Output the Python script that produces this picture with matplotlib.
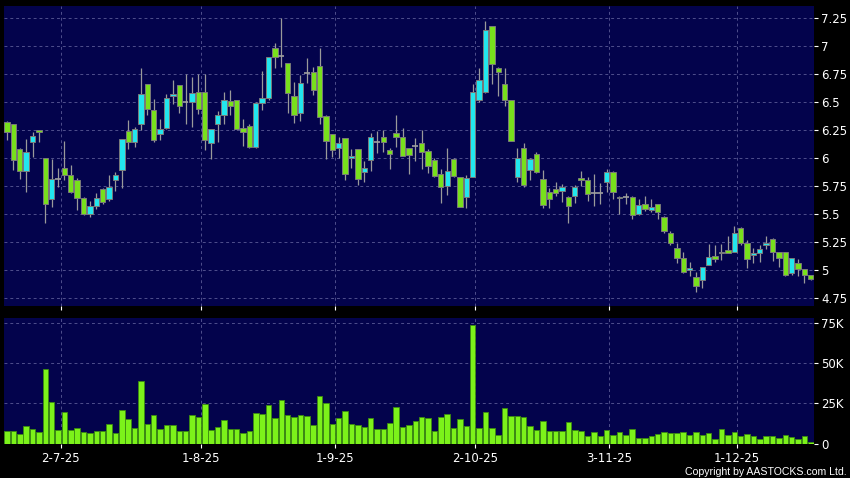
import numpy as np
import matplotlib.pyplot as plt

# daily candles (oldest first)
opens = [6.32, 6.30, 6.08, 5.88, 6.14, 6.25, 6.00, 5.63, 5.81, 5.91,
         5.85, 5.80, 5.64, 5.50, 5.57, 5.72, 5.63, 5.80, 5.89, 6.24,
         6.14, 6.30, 6.66, 6.43, 6.21, 6.27, 6.55, 6.65, 6.50, 6.50,
         6.59, 6.59, 6.13, 6.30, 6.38, 6.51, 6.515, 6.265, 6.29, 6.10,
         6.49, 6.54, 6.98, 6.91, 6.846, 6.556, 6.40, 6.76, 6.765, 6.82,
         6.378, 6.21, 6.087, 6.176, 6.00, 6.077, 5.878, 5.98, 6.145, 6.185,
         6.07, 6.22, 6.19, 6.087, 6.11, 6.13, 6.063, 5.982, 5.855, 5.753,
         5.99, 5.83, 5.65, 5.827, 6.518, 6.592, 7.18, 6.806, 6.66, 6.518,
         5.827, 6.092, 5.893, 6.04, 5.81, 5.694, 5.72, 5.71, 5.655, 5.66,
         5.82, 5.80, 5.685, 5.685, 5.79, 5.873, 5.64, 5.65, 5.655, 5.497,
         5.587, 5.54, 5.587, 5.476, 5.328, 5.20, 5.105, 5.00, 4.935, 4.91,
         5.045, 5.128, 5.15, 5.176, 5.164, 5.378, 5.238, 5.13, 5.15, 5.22,
         5.274, 5.158, 5.158, 4.97, 5.065, 5.006, 4.953]
highs = [6.33, 6.30, 6.09, 6.17, 6.23, 6.25, 6.00, 5.99, 5.91, 6.15,
         5.94, 5.82, 5.65, 5.62, 5.69, 5.73, 5.85, 5.875, 6.17, 6.34,
         6.28, 6.80, 6.66, 6.53, 6.35, 6.57, 6.70, 6.65, 6.75, 6.72,
         6.75, 6.75, 6.26, 6.42, 6.59, 6.61, 6.52, 6.345, 6.30, 6.50,
         6.78, 6.90, 7.03, 7.247, 6.85, 6.68, 6.74, 6.89, 6.815, 6.98,
         6.38, 6.21, 6.19, 6.18, 6.08, 6.08, 5.976, 6.226, 6.24, 6.25,
         6.09, 6.384, 6.265, 6.09, 6.18, 6.25, 6.08, 6.00, 5.90, 6.087,
         6.00, 5.83, 5.85, 6.66, 6.80, 7.22, 7.18, 6.81, 6.806, 6.52,
         6.087, 6.13, 6.00, 6.05, 5.893, 5.73, 5.79, 5.77, 5.66, 5.76,
         5.884, 5.83, 5.857, 5.78, 5.90, 5.88, 5.66, 5.69, 5.66, 5.634,
         5.66, 5.63, 5.59, 5.48, 5.35, 5.244, 5.16, 5.07, 4.98, 5.03,
         5.23, 5.22, 5.23, 5.30, 5.393, 5.38, 5.27, 5.20, 5.22, 5.30,
         5.29, 5.16, 5.16, 5.10, 5.10, 5.01, 4.96]
lows = [6.16, 5.89, 5.81, 5.70, 6.01, 6.14, 5.42, 5.56, 5.74, 5.80,
        5.69, 5.54, 5.49, 5.47, 5.545, 5.59, 5.62, 5.71, 5.73, 6.08,
        6.10, 6.25, 6.38, 6.14, 6.16, 6.26, 6.48, 6.40, 6.30, 6.28,
        6.39, 6.07, 5.99, 6.145, 6.30, 6.38, 6.25, 6.11, 6.09, 6.09,
        6.43, 6.52, 6.80, 6.81, 6.40, 6.31, 6.33, 6.667, 6.56, 6.30,
        5.99, 6.006, 6.00, 5.80, 5.91, 5.76, 5.79, 5.88, 6.045, 6.05,
        5.90, 6.10, 6.018, 5.855, 5.976, 5.90, 5.863, 5.83, 5.595, 5.67,
        5.83, 5.56, 5.55, 5.827, 6.50, 6.58, 6.66, 6.556, 6.467, 6.15,
        5.79, 5.74, 5.80, 5.87, 5.55, 5.55, 5.66, 5.604, 5.417, 5.60,
        5.75, 5.62, 5.574, 5.59, 5.70, 5.63, 5.497, 5.59, 5.46, 5.49,
        5.53, 5.52, 5.46, 5.33, 5.22, 5.06, 4.975, 4.95, 4.80, 4.84,
        5.045, 5.07, 5.09, 5.15, 5.16, 5.22, 5.02, 5.06, 5.07, 5.19,
        5.08, 5.03, 4.95, 4.96, 4.95, 4.88, 4.91]
closes = [6.23, 5.98, 5.88, 6.05, 6.20, 6.23, 5.59, 5.81, 5.81, 5.85,
          5.70, 5.64, 5.50, 5.57, 5.64, 5.61, 5.74, 5.85, 6.17, 6.14,
          6.26, 6.57, 6.44, 6.16, 6.26, 6.54, 6.575, 6.46, 6.50, 6.58,
          6.44, 6.16, 6.26, 6.38, 6.52, 6.46, 6.26, 6.23, 6.10, 6.49,
          6.54, 6.90, 6.905, 6.91, 6.578, 6.384, 6.67, 6.76, 6.61, 6.363,
          6.152, 6.07, 6.13, 5.855, 6.018, 5.81, 5.908, 6.185, 6.145, 6.145,
          6.04, 6.19, 6.02, 6.027, 6.11, 6.056, 5.93, 5.842, 5.744, 5.884,
          5.842, 5.56, 5.82, 6.592, 6.694, 7.143, 6.842, 6.765, 6.515, 6.152,
          5.997, 5.759, 5.991, 5.872, 5.58, 5.63, 5.685, 5.74, 5.574, 5.74,
          5.80, 5.675, 5.685, 5.685, 5.873, 5.694, 5.655, 5.65, 5.49, 5.577,
          5.542, 5.56, 5.515, 5.35, 5.238, 5.105, 4.985, 5.018, 4.857, 5.03,
          5.12, 5.098, 5.16, 5.15, 5.328, 5.238, 5.098, 5.15, 5.188, 5.238,
          5.158, 5.105, 4.955, 5.105, 5.006, 4.953, 4.917]
# volume in thousands of shares
volumes = [7.7, 7.7, 6.0, 10.6, 8.7, 7.3, 46.5, 25.5, 8.3, 19.7,
           8.5, 9.8, 7.3, 6.4, 7.9, 7.5, 12.2, 6.4, 20.7, 15.1,
           9.8, 38.6, 12.0, 17.4, 8.9, 11.6, 11.2, 7.9, 7.9, 18.0,
           16.4, 24.7, 8.3, 10.2, 14.7, 9.1, 8.7, 6.4, 7.9, 18.9,
           18.3, 24.1, 16.0, 26.8, 17.4, 16.6, 17.6, 17.0, 11.8, 29.3,
           25.1, 12.2, 15.6, 20.1, 12.4, 11.2, 10.0, 15.8, 9.3, 8.7,
           12.7, 22.4, 10.4, 11.4, 13.7, 16.2, 16.0, 7.9, 16.4, 18.5,
           9.5, 15.1, 10.8, 73.6, 9.5, 19.3, 9.5, 5.2, 21.8, 16.8,
           17.0, 16.4, 11.0, 8.5, 14.1, 7.9, 7.9, 7.9, 13.3, 8.5,
           7.9, 4.6, 7.1, 4.8, 8.3, 5.2, 7.3, 5.2, 8.9, 3.7,
           3.7, 4.6, 6.2, 7.3, 6.4, 6.4, 7.1, 5.2, 7.3, 5.2,
           6.8, 2.9, 8.9, 5.2, 7.3, 4.6, 6.2, 4.4, 2.5, 4.4,
           4.6, 3.3, 5.4, 4.1, 2.5, 4.6, 0.8]

date_labels = ['2-7-25', '1-8-25', '1-9-25', '2-10-25', '3-11-25', '1-12-25']
date_idx = [8, 30, 51, 73, 94, 114]
price_ticks = [4.75, 5, 5.25, 5.5, 5.75, 6, 6.25, 6.5, 6.75, 7, 7.25]
vol_ticks = [0, 25, 50, 75]

BG = '#03034c'
GRID = '#4f4f8c'
UP = '#22e6ee'
DOWN = '#78e01c'

o = np.array(opens)
h = np.array(highs)
l = np.array(lows)
c = np.array(closes)
v = np.array(volumes)
x = np.arange(len(o))
tick_x = np.array(date_idx) + 0.4

fig = plt.figure(figsize=(8.5, 4.78), dpi=100, facecolor='black')
ax = fig.add_axes([4 / 850, 1 - 306 / 478, 810 / 850, 300 / 478], facecolor=BG)
axv = fig.add_axes([4 / 850, 1 - 444 / 478, 810 / 850, 126 / 478], facecolor=BG)

# price panel
ax.vlines(x, l, h, color='#9a9a9a', linewidth=0.9, zorder=2)
up = c > o
down = c < o
doji = c == o
ax.bar(x[up], (c - o)[up], bottom=o[up], width=0.84, color=UP,
       edgecolor='#7a7a7a', linewidth=0.7, zorder=3)
ax.bar(x[down], (o - c)[down], bottom=c[down], width=0.84, color=DOWN,
       edgecolor='#7a7a7a', linewidth=0.7, zorder=3)
ax.hlines(c[doji], x[doji] - 0.45, x[doji] + 0.45, color='#a0a0a0', linewidth=1.2, zorder=3)

ax.set_xlim(-0.47, 126.5)
ax.set_ylim(4.679, 7.357)
ax.set_yticks(price_ticks)
ax.set_yticklabels([f'{t:g}' for t in price_ticks])
ax.set_xticks(tick_x)
ax.tick_params(axis='x', length=0, labelbottom=False)

# volume panel
axv.bar(x, v, width=0.86, color='#7cf21a', edgecolor='#3c8c10', linewidth=0.6, zorder=3)
axv.set_xlim(-0.47, 126.5)
axv.set_ylim(-0.3, 77.9)
axv.set_yticks(vol_ticks)
axv.set_yticklabels(['0'] + [f'{t}K' for t in vol_ticks[1:]])
axv.set_xticks(tick_x)
axv.set_xticklabels(date_labels)

for a in (ax, axv):
    a.yaxis.tick_right()
    a.tick_params(axis='y', colors='white', length=3, width=0.8, pad=2, labelsize=8.5)
    a.tick_params(axis='x', colors='white', length=3, width=0.8, pad=3, labelsize=8.5)
    a.grid(True, color=GRID, linestyle=(0, (3, 3)), linewidth=0.7)
    a.set_axisbelow(True)
    for s in a.spines.values():
        s.set_visible(False)

axv.yaxis.get_gridlines()[0].set_visible(False)

fig.text(0.996, 0.003, 'Copyright by AASTOCKS.com Ltd.', color='white', fontsize=7.6,
         family='Liberation Sans', ha='right', va='bottom')

fig.savefig('out.png', dpi=100, facecolor='black')
